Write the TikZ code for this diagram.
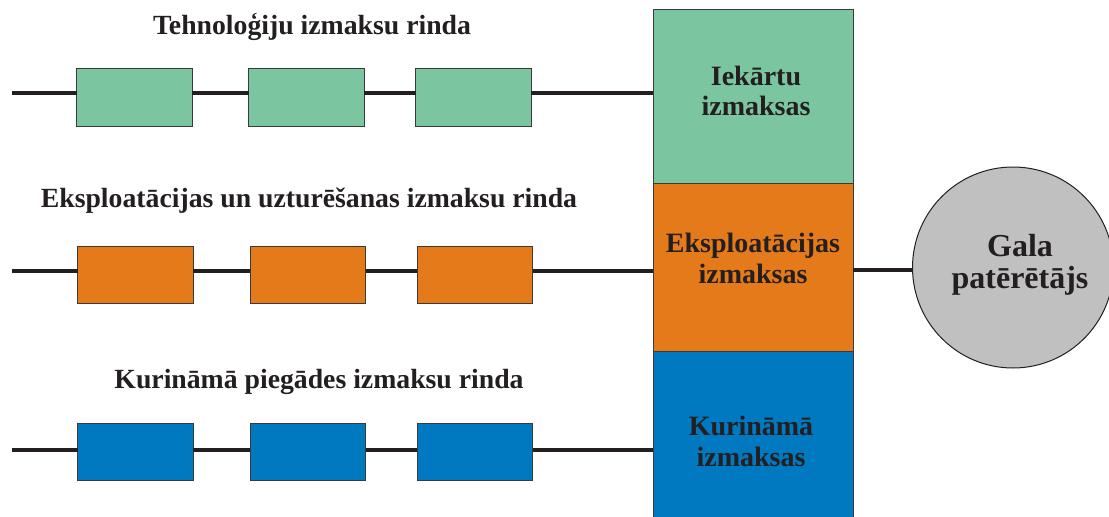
\documentclass[tikz,border=0pt]{standalone}
\usepackage{fontspec}
\setmainfont{Liberation Serif}
\definecolor{cgreen}{HTML}{7BC6A0}
\definecolor{corange}{HTML}{E57A1A}
\definecolor{cblue}{HTML}{0079C1}
\definecolor{cgray}{HTML}{C0C0C0}
\definecolor{ink}{HTML}{231F20}
\definecolor{edge}{HTML}{3A3A3A}
\begin{document}
\begin{tikzpicture}[x=0.75pt,y=-0.75pt,
  rowline/.style={draw=ink, line width=3.4pt},
  cbox/.style={draw=edge, line width=0.75pt, minimum width=86.5pt, minimum height=42.75pt, inner sep=0pt, outer sep=0pt},
  colbox/.style={draw=edge, line width=0.75pt, minimum width=150pt, inner sep=0pt, outer sep=0pt},
  rowtitle/.style={font=\bfseries\fontsize{20.8}{25}\selectfont, text=ink, anchor=base, inner sep=0pt},
  boxlabel/.style={font=\bfseries\fontsize{21}{25}\selectfont, text=ink, anchor=base, inner sep=0pt},
  circlabel/.style={font=\bfseries\fontsize{24}{28}\selectfont, text=ink, anchor=base, inner sep=0pt}]
\useasboundingbox (0,0) rectangle (1109,517);
\clip (0,0) rectangle (1109,517);

% right column
\node[colbox, fill=cgreen, minimum height=129.75pt] (green) at (753,96.5) {};
\node[colbox, fill=corange, minimum height=126pt] (orange) at (753,267) {};
\node[colbox, fill=cblue, minimum height=124.5pt] (blue) at (753,434) {};

% consumer circle
\node[circle, draw=ink, line width=0.75pt, fill=cgray, minimum size=150.75pt, inner sep=0pt, outer sep=0pt] (cons) at (1013,267.5) {};

% row start coordinates
\coordinate (s1) at (12,93);
\coordinate (s2) at (12,271);
\coordinate (s3) at (12,450);
\coordinate (cj) at (853,270);

% row boxes
\node[cbox, fill=cgreen] (a1) at (134.5,97.5) {};
\node[cbox, fill=cgreen] (a2) at (306.5,97.5) {};
\node[cbox, fill=cgreen] (a3) at (473.5,97.5) {};
\node[cbox, fill=corange] (b1) at (135.5,275) {};
\node[cbox, fill=corange] (b2) at (308,275) {};
\node[cbox, fill=corange] (b3) at (475,275) {};
\node[cbox, fill=cblue] (c1) at (135.5,452) {};
\node[cbox, fill=cblue] (c2) at (308,452) {};
\node[cbox, fill=cblue] (c3) at (475,452) {};

% connectors
\draw[rowline] (s1) -- (s1 -| a1.west);
\draw[rowline] (a1.east |- s1) -- (a2.west |- s1);
\draw[rowline] (a2.east |- s1) -- (a3.west |- s1);
\draw[rowline] (a3.east |- s1) -- (green.west |- s1);
\draw[rowline] (s2) -- (s2 -| b1.west);
\draw[rowline] (b1.east |- s2) -- (b2.west |- s2);
\draw[rowline] (b2.east |- s2) -- (b3.west |- s2);
\draw[rowline] (b3.east |- s2) -- (orange.west |- s2);
\draw[rowline] (s3) -- (s3 -| c1.west);
\draw[rowline] (c1.east |- s3) -- (c2.west |- s3);
\draw[rowline] (c2.east |- s3) -- (c3.west |- s3);
\draw[rowline] (c3.east |- s3) -- (blue.west |- s3);
\draw[rowline] (cj) -- (cj -| cons.west);

% row titles
\node[rowtitle] (t1) at (312,35) {Tehnoloģiju izmaksu rinda};
\node[rowtitle] (t2) at (309,207) {Eksploatācijas un uzturēšanas izmaksu rinda};
\node[rowtitle] (t3) at (319,388) {Kurināmā piegādes izmaksu rinda};

% column labels
\node[boxlabel] (g1) at (756,85) {Iekārtu};
\node[boxlabel] (g2) at (756,115) {izmaksas};
\node[boxlabel] (o1) at (753,252) {Eksploatācijas};
\node[boxlabel] (o2) at (753,283) {izmaksas};
\node[boxlabel] (k1) at (751,435) {Kurināmā};
\node[boxlabel] (k2) at (751,466) {izmaksas};

% circle labels
\node[circlabel] (p1) at (1020,256) {Gala};
\node[circlabel] (p2) at (1020,288) {patērētājs};
\end{tikzpicture}
\end{document}
